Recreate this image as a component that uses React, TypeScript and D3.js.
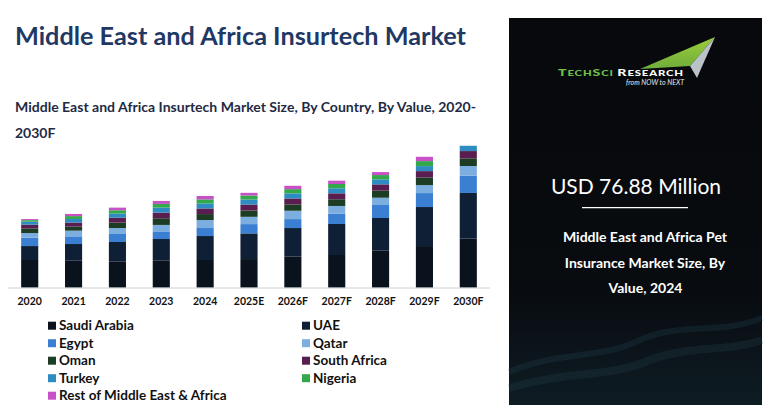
import React from 'react';
import * as d3 from 'd3';

const years = ['2020', '2021', '2022', '2023', '2024', '2025E', '2026F', '2027F', '2028F', '2029F', '2030F'];

const saudiArabia = [23.2, 22.6, 22.1, 22.6, 23.2, 24.0, 26.0, 27.4, 31.0, 34.9, 41.1];
const uae = [11.7, 14.0, 16.2, 18.2, 20.1, 21.5, 24.0, 26.0, 27.4, 32.7, 38.3];
const egypt = [7.0, 5.9, 6.7, 5.9, 6.7, 7.8, 7.5, 8.7, 10.9, 11.7, 14.5];
const qatar = [3.9, 5.3, 5.0, 5.9, 6.7, 6.1, 7.0, 6.4, 6.1, 6.7, 8.1];
const oman = [3.9, 3.4, 4.5, 5.6, 5.0, 5.3, 5.3, 5.6, 5.9, 6.4, 6.4];
const southAfrica = [3.1, 3.4, 4.2, 4.7, 4.7, 5.0, 5.0, 5.0, 5.3, 5.3, 6.1];
const turkey = [2.5, 3.0, 3.4, 4.2, 4.2, 4.2, 4.2, 4.2, 4.2, 4.2, 4.8];
const nigeria = [1.3, 2.4, 2.8, 3.1, 3.4, 3.4, 3.6, 3.6, 3.6, 4.2, 4.4];
const restOfMea = [0.9, 1.8, 2.2, 2.5, 2.88, 2.2, 2.8, 2.8, 2.5, 3.6, 3.8];

const seriesNames = ['Saudi Arabia', 'UAE', 'Egypt', 'Qatar', 'Oman', 'South Africa', 'Turkey', 'Nigeria', 'Rest of Middle East & Africa'];
const seriesValues = [saudiArabia, uae, egypt, qatar, oman, southAfrica, turkey, nigeria, restOfMea];
const colors = ['#09121d', '#0f1f35', '#3a7fd2', '#7caee0', '#1d3c24', '#5a1d4f', '#2d8cc2', '#33a94b', '#c851c8'];

const yMax = 119;

const W = 765;
const H = 410;
const FONT = 'Lato, "Open Sans", sans-serif';

const App = () => {
  // table for d3.stack
  const table = years.map((year, i) => {
    const row: any = { year };
    seriesNames.forEach((name, j) => { row[name] = seriesValues[j][i]; });
    return row;
  });
  const stacked = d3.stack<any>().keys(seriesNames)(table);

  const x = d3.scaleBand()
    .domain(years)
    .range([8, 490])
    .paddingInner(0.61)
    .paddingOuter(0.3);

  const y = d3.scaleLinear()
    .domain([0, yMax])
    .range([287.7, 145.7]);

  const legendRows = [
    [0, 1], [2, 3], [4, 5], [6, 7], [8],
  ];

  return (
    <svg width={W} height={H} style={{ position: 'absolute', left: 0, top: 0 }} fontFamily={FONT}>
      <defs>
        <clipPath id="plotClip">
          <rect x={0} y={145.7} width={500} height={145} />
        </clipPath>
        <linearGradient id="panelGrad" x1="0" y1="0" x2="0" y2="1">
          <stop offset="0%" stopColor="#07090c" />
          <stop offset="70%" stopColor="#080b0f" />
          <stop offset="100%" stopColor="#0e1c24" />
        </linearGradient>
        <linearGradient id="swoosh" x1="0" y1="0" x2="0" y2="1">
          <stop offset="0%" stopColor="#9ccc3c" />
          <stop offset="100%" stopColor="#6fae3a" />
        </linearGradient>
      </defs>

      <rect x={0} y={0} width={W} height={H} fill="#ffffff" />

      {/* titles */}
      <text x={15} y={45} fontSize={25} fontWeight={700} fill="#1f3864" textLength={451} lengthAdjust="spacingAndGlyphs">
        Middle East and Africa Insurtech Market
      </text>
      <text x={15} y={111.5} fontSize={14} fontWeight={700} fill="#1f2b45" textLength={461} lengthAdjust="spacingAndGlyphs">
        Middle East and Africa Insurtech Market Size, By Country, By Value, 2020-
      </text>
      <text x={15} y={138} fontSize={14} fontWeight={700} fill="#1f2b45">
        2030F
      </text>

      {/* bars */}
      <g clipPath="url(#plotClip)">
        {stacked.map((layer, j) => (
          <g key={layer.key} fill={colors[j]}>
            {layer.map((d, i) => (
              <rect
                key={years[i]}
                x={x(years[i])!}
                y={y(d[1])}
                width={x.bandwidth()}
                height={Math.max(0, y(d[0]) - y(d[1]))}
              />
            ))}
          </g>
        ))}
      </g>

      {/* x axis */}
      <line x1={8} x2={490} y1={288} y2={288} stroke="#d0d0d0" strokeWidth={1} />
      {years.map(year => (
        <text
          key={year}
          x={x(year)! + x.bandwidth() / 2}
          y={305}
          textAnchor="middle"
          fontSize={10.5}
          fontWeight={700}
          fill="#111"
        >
          {year}
        </text>
      ))}

      {/* legend */}
      {legendRows.map((row, r) => row.map((idx, c) => {
        const lx = c === 0 ? 48 : 302;
        const ly = 325.7 + r * 17.5;
        return (
          <g key={seriesNames[idx]}>
            <rect x={lx} y={ly - 4} width={8} height={8} fill={colors[idx]} />
            <text x={lx + 11} y={ly + 4.6} fontSize={13.5} fontWeight={700} fill="#111">
              {seriesNames[idx]}
            </text>
          </g>
        );
      }))}

      {/* right panel */}
      <rect x={509} y={18} width={253} height={387} fill="url(#panelGrad)" />
      <path d="M509,372 C560,350 600,360 640,340 C680,322 720,335 762,318" fill="none" stroke="#2b5460" strokeOpacity={0.22} strokeWidth={6} />
      <path d="M509,388 C570,370 610,378 650,360 C690,345 730,352 762,340" fill="none" stroke="#2b5460" strokeOpacity={0.2} strokeWidth={8} />

      {/* logo */}
      <polygon points="715,37 640,69 690,66" fill="url(#swoosh)" />
      <polygon points="715,37 690,66 697,78" fill="#b9c2c6" />
      <text x={558} y={75.7} fontSize={10} fontWeight={900} letterSpacing={0.6} textLength={126} lengthAdjust="spacingAndGlyphs">
        <tspan fill="#6cc04a">T</tspan>
        <tspan fill="#6cc04a" fontSize={8}>ECH</tspan>
        <tspan fill="#6cc04a">S</tspan>
        <tspan fill="#6cc04a" fontSize={8}>CI </tspan>
        <tspan fill="#ffffff">R</tspan>
        <tspan fill="#ffffff" fontSize={8}>ESEARCH</tspan>
      </text>
      <text x={684} y={84.5} textAnchor="end" fontSize={7} fontStyle="italic" fill="#e8e8e8">
        from NOW to NEXT
      </text>

      <text x={636} y={194} textAnchor="middle" fontSize={21} fill="#ffffff">
        USD 76.88 Million
      </text>
      <line x1={582} x2={688} y1={207.7} y2={207.7} stroke="#ffffff" strokeWidth={1.2} />
      <text textAnchor="middle" fontSize={14} fontWeight={700} fill="#ffffff">
        <tspan x={645} y={241.7}>Middle East and Africa Pet</tspan>
        <tspan x={645} y={268}>Insurance Market Size, By</tspan>
        <tspan x={645.5} y={293}>Value, 2024</tspan>
      </text>
    </svg>
  );
};

export default App;
